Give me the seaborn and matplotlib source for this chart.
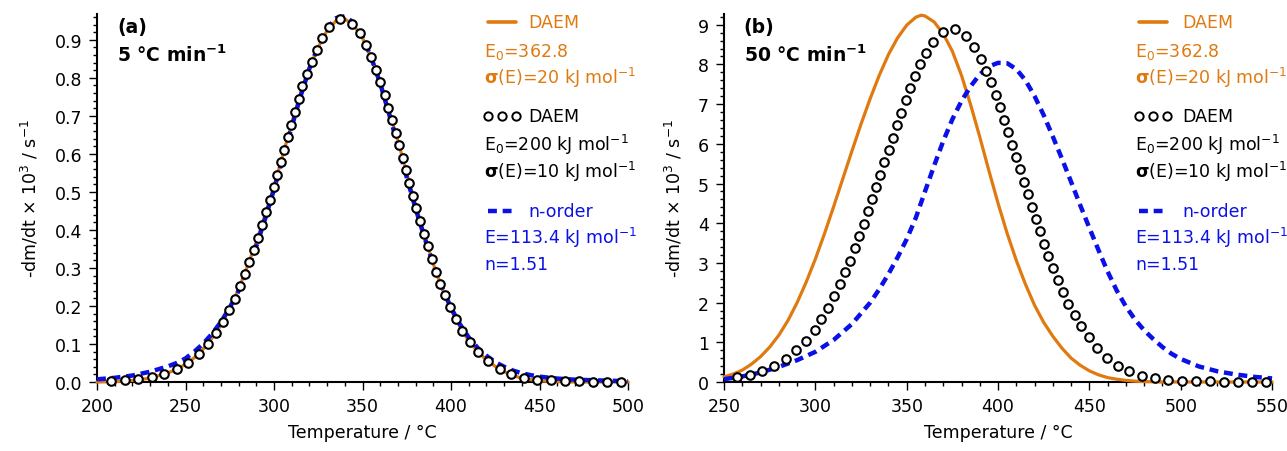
import numpy as np
import pandas as pd
import matplotlib
matplotlib.use("Agg")
import matplotlib.pyplot as plt
from matplotlib.ticker import MultipleLocator, FormatStrFormatter
import seaborn as sns

# ── Colores ──────────────────────────────────────────────────────────────────
ORANGE = "#E07A10"
BLUE = "#0A10E8"

# ── (a) 5 °C/min ─────────────────────────────────────────────────────────────
a_line_T = [200, 210, 220, 230, 240, 245, 250, 255, 260, 265, 270, 275, 280, 285,
            290, 295, 300, 305, 310, 315, 320, 325, 330, 335, 340, 345, 350, 355,
            360, 365, 370, 375, 380, 385, 390, 395, 400, 405, 410, 415, 420, 425,
            430, 435, 440, 445, 450, 460, 470, 500]
a_daem20 = [0.000, 0.001, 0.004, 0.010, 0.024, 0.033, 0.047, 0.064, 0.087, 0.116,
            0.150, 0.193, 0.244, 0.305, 0.368, 0.441, 0.514, 0.598, 0.680, 0.760,
            0.826, 0.881, 0.925, 0.950, 0.955, 0.938, 0.905, 0.852, 0.790, 0.712,
            0.634, 0.548, 0.465, 0.385, 0.310, 0.245, 0.190, 0.145, 0.108, 0.080,
            0.058, 0.041, 0.027, 0.017, 0.010, 0.006, 0.003, 0.001, 0.000, 0.000]
a_norder = [0.007, 0.011, 0.017, 0.027, 0.041, 0.050, 0.062, 0.080, 0.101, 0.127,
            0.158, 0.196, 0.240, 0.296, 0.358, 0.430, 0.507, 0.590, 0.672, 0.752,
            0.825, 0.884, 0.930, 0.957, 0.962, 0.945, 0.908, 0.852, 0.785, 0.705,
            0.622, 0.538, 0.456, 0.380, 0.310, 0.248, 0.195, 0.152, 0.117, 0.090,
            0.069, 0.052, 0.040, 0.030, 0.023, 0.018, 0.014, 0.009, 0.006, 0.002]

a_pts_T = [207.9, 215.7, 223.4, 230.9, 238.1, 245.1, 251.5, 257.5, 262.8, 267.4,
           271.3, 274.5, 277.9, 280.6, 283.4, 285.8, 288.5, 290.8, 293.2, 295.3,
           297.5, 299.8, 301.7, 303.8, 305.7, 307.7, 309.8, 311.9, 314.0, 316.0,
           318.7, 321.3, 324.2, 327.2, 331.0, 337.2, 344.0, 348.7, 352.1, 354.7,
           357.5, 360.0, 362.5, 364.3, 366.4, 368.7, 370.6, 372.6, 374.5, 376.4,
           378.5, 380.4, 382.5, 384.7, 386.8, 389.1, 391.5, 394.0, 396.6, 399.6,
           402.8, 406.4, 410.6, 415.5, 421.1, 427.4, 433.8, 441.1, 448.7, 456.4,
           464.2, 472.1, 480.0, 488.1, 496.0]
a_daem10 = [0.003, 0.004, 0.007, 0.013, 0.021, 0.034, 0.051, 0.074, 0.100, 0.129,
            0.158, 0.189, 0.219, 0.252, 0.283, 0.316, 0.347, 0.380, 0.412, 0.446,
            0.480, 0.512, 0.545, 0.578, 0.611, 0.645, 0.677, 0.711, 0.744, 0.778,
            0.810, 0.842, 0.874, 0.904, 0.933, 0.956, 0.941, 0.917, 0.886, 0.855,
            0.822, 0.789, 0.755, 0.722, 0.689, 0.656, 0.623, 0.590, 0.557, 0.524,
            0.490, 0.457, 0.424, 0.390, 0.357, 0.324, 0.290, 0.259, 0.228, 0.196,
            0.165, 0.134, 0.106, 0.079, 0.054, 0.035, 0.020, 0.011, 0.006, 0.004,
            0.003, 0.002, 0.001, 0.001, 0.001]

# ── (b) 50 °C/min ────────────────────────────────────────────────────────────
b_daem20_T = [250, 255, 260, 265, 270, 275, 280, 285, 290, 295, 300, 305, 310, 315,
              320, 325, 330, 335, 340, 345, 350, 355, 358, 360, 365, 370, 375, 380,
              385, 390, 395, 400, 405, 410, 415, 420, 425, 430, 435, 440, 445, 450,
              455, 460, 465, 470, 475, 480, 490, 550]
b_daem20 = [0.13, 0.20, 0.30, 0.45, 0.64, 0.88, 1.18, 1.55, 2.00, 2.52, 3.10, 3.74,
            4.42, 5.12, 5.82, 6.50, 7.14, 7.73, 8.25, 8.67, 8.99, 9.19, 9.24, 9.22,
            9.07, 8.77, 8.33, 7.72, 6.98, 6.17, 5.32, 4.50, 3.74, 3.06, 2.46, 1.93,
            1.50, 1.15, 0.85, 0.60, 0.42, 0.28, 0.18, 0.11, 0.07, 0.04, 0.02, 0.01,
            0.00, 0.00]

b_norder_T = [250, 260, 270, 280, 290, 300, 310, 320, 330, 335, 340, 345, 350, 355,
              360, 365, 370, 375, 380, 385, 390, 395, 400, 405, 410, 415, 420, 425,
              430, 435, 440, 445, 450, 455, 460, 465, 470, 475, 480, 485, 490, 495,
              500, 510, 520, 530, 540, 550]
b_norder = [0.07, 0.14, 0.24, 0.38, 0.55, 0.76, 1.06, 1.46, 2.00, 2.34, 2.72, 3.14,
            3.60, 4.14, 4.80, 5.45, 6.07, 6.62, 7.08, 7.45, 7.75, 7.95, 8.04, 8.03,
            7.88, 7.60, 7.20, 6.72, 6.18, 5.62, 5.04, 4.45, 3.88, 3.32, 2.78, 2.30,
            1.90, 1.57, 1.30, 1.08, 0.88, 0.71, 0.58, 0.39, 0.27, 0.19, 0.13, 0.09]

b_pts_T = [257.0, 264.2, 270.9, 277.3, 283.7, 289.5, 294.8, 299.6, 303.2, 306.9,
           310.2, 313.3, 316.4, 319.1, 321.5, 324.0, 326.4, 328.8, 331.0, 333.2,
           335.5, 337.7, 340.1, 342.3, 344.6, 347.0, 349.4, 351.8, 354.6, 357.3,
           360.6, 364.6, 369.7, 376.4, 382.4, 386.9, 390.5, 393.4, 396.0, 398.7,
           401.1, 403.3, 405.6, 407.8, 409.9, 411.9, 414.1, 416.3, 418.5, 420.7,
           422.8, 425.2, 427.6, 430.0, 432.7, 435.4, 438.5, 442.0, 445.6, 449.7,
           454.2, 459.5, 465.5, 471.9, 478.8, 485.9, 493.2, 500.9, 508.6, 516.0,
           523.7, 531.5, 539.2, 546.7]
b_daem10 = [0.12, 0.18, 0.28, 0.40, 0.58, 0.80, 1.04, 1.31, 1.59, 1.87,
            2.17, 2.46, 2.76, 3.06, 3.37, 3.68, 3.98, 4.30, 4.60, 4.91,
            5.22, 5.53, 5.84, 6.15, 6.47, 6.78, 7.10, 7.40, 7.71, 8.00,
            8.29, 8.57, 8.82, 8.89, 8.71, 8.43, 8.14, 7.84, 7.55, 7.23,
            6.92, 6.61, 6.29, 5.98, 5.68, 5.37, 5.05, 4.74, 4.42, 4.11,
            3.80, 3.48, 3.18, 2.87, 2.56, 2.26, 1.96, 1.69, 1.40, 1.13,
            0.85, 0.61, 0.41, 0.27, 0.16, 0.10, 0.05, 0.03, 0.02, 0.02,
            0.01, 0.01, 0.01, 0.01]

# ── Estilo ───────────────────────────────────────────────────────────────────
sns.set_style("ticks")
plt.rcParams["font.family"] = ["DejaVu Sans"]
plt.rcParams["mathtext.fontset"] = "dejavusans"
plt.rcParams["text.color"] = "black"
plt.rcParams["axes.labelcolor"] = "black"
plt.rcParams["xtick.color"] = "black"
plt.rcParams["ytick.color"] = "black"
FS = 12.5
DASH = (0, (2.0, 1.3))

fig = plt.figure(figsize=(12.87, 4.52), dpi=100)
ax_a = fig.add_axes([0.0754, 0.1527, 0.4126, 0.8141])
ax_b = fig.add_axes([0.5626, 0.1527, 0.4258, 0.8141])


def draw_panel(ax, line_T, orange_y, blue_T, blue_y, pts_T, pts_y):
    sns.lineplot(x=line_T, y=orange_y, ax=ax, color=ORANGE, lw=2.3,
                 clip_on=False, zorder=3)
    sns.lineplot(x=blue_T, y=blue_y, ax=ax, color=BLUE, lw=3.2,
                 linestyle=DASH, clip_on=False, zorder=4)
    sns.scatterplot(x=pts_T, y=pts_y, ax=ax, marker="o", s=38, color="white",
                    edgecolor="black", linewidth=1.5, clip_on=False, zorder=5)


def style_axis(ax, xlim, ylim, ymaj, yfmt):
    ax.set_xlim(*xlim)
    ax.set_ylim(*ylim)
    ax.xaxis.set_major_locator(MultipleLocator(50))
    ax.xaxis.set_minor_locator(MultipleLocator(10))
    ax.yaxis.set_major_locator(MultipleLocator(ymaj))
    ax.yaxis.set_minor_locator(MultipleLocator(ymaj / 5))
    ax.yaxis.set_major_formatter(FormatStrFormatter(yfmt))
    for side in ("top", "right"):
        ax.spines[side].set_visible(False)
    for side in ("left", "bottom"):
        ax.spines[side].set_linewidth(1.5)
        ax.spines[side].set_color("black")
    ax.tick_params(which="major", length=5.8, width=1.0, color="black",
                   labelcolor="black", labelsize=FS, pad=5, direction="out")
    ax.tick_params(which="minor", length=3.0, width=1.0, color="black",
                   direction="out")
    ax.set_xlabel("Temperature / °C", fontsize=FS, labelpad=6, color="black")
    ax.set_ylabel(r"-dm/dt × 10$^3$ / s$^{-1}$", fontsize=FS, labelpad=10,
                  color="black")


def draw_key(ax, x0, x1, xt):
    ys = [0.978, 0.899, 0.829, 0.723, 0.647, 0.573, 0.465, 0.394, 0.321]
    tr = ax.transAxes
    ax.plot([x0, x1], [ys[0], ys[0]], transform=tr, color=ORANGE, lw=2.6,
            clip_on=False)
    ax.text(xt, ys[0], "DAEM", transform=tr, color=ORANGE, fontsize=FS, va="center")
    ax.text(x0 - 0.007, ys[1], r"E$_0$=362.8", transform=tr, color=ORANGE,
            fontsize=FS, va="center")
    ax.text(x0 - 0.007, ys[2], r"$\mathbf{\sigma}$(E)=20 kJ mol$^{-1}$", transform=tr,
            color=ORANGE, fontsize=FS, va="center")
    ax.plot([x0, (x0 + x1) / 2, x1], [ys[3]] * 3, "o", transform=tr, ms=6,
            mfc="white", mec="black", mew=1.4, clip_on=False)
    ax.text(xt, ys[3], "DAEM", transform=tr, color="black", fontsize=FS, va="center")
    ax.text(x0 - 0.007, ys[4], r"E$_0$=200 kJ mol$^{-1}$", transform=tr,
            color="black", fontsize=FS, va="center")
    ax.text(x0 - 0.007, ys[5], r"$\mathbf{\sigma}$(E)=10 kJ mol$^{-1}$", transform=tr,
            color="black", fontsize=FS, va="center")
    ax.plot([x0, x1], [ys[6], ys[6]], transform=tr, color=BLUE, lw=3.2,
            linestyle=DASH, clip_on=False)
    ax.text(xt, ys[6], "n-order", transform=tr, color=BLUE, fontsize=FS, va="center")
    ax.text(x0 - 0.007, ys[7], r"E=113.4 kJ mol$^{-1}$", transform=tr, color=BLUE,
            fontsize=FS, va="center")
    ax.text(x0 - 0.007, ys[8], "n=1.51", transform=tr, color=BLUE, fontsize=FS,
            va="center")


draw_panel(ax_a, a_line_T, a_daem20, a_line_T, a_norder, a_pts_T, a_daem10)
style_axis(ax_a, (200, 500), (0, 0.968), 0.1, "%.1f")
draw_key(ax_a, 0.736, 0.789, 0.812)
ax_a.text(0.038, 0.965, "(a)", transform=ax_a.transAxes, fontsize=FS + 1,
          fontweight="bold", va="center", color="black")
ax_a.text(0.038, 0.89, r"5 °C min$^{\mathbf{-1}}$", transform=ax_a.transAxes,
          fontsize=FS + 1, fontweight="bold", va="center", color="black")

draw_panel(ax_b, b_daem20_T, b_daem20, b_norder_T, b_norder, b_pts_T, b_daem10)
style_axis(ax_b, (250, 550), (0, 9.27), 1, "%d")
draw_key(ax_b, 0.757, 0.808, 0.836)
ax_b.text(0.036, 0.965, "(b)", transform=ax_b.transAxes, fontsize=FS + 1,
          fontweight="bold", va="center", color="black")
ax_b.text(0.036, 0.89, r"50 °C min$^{\mathbf{-1}}$", transform=ax_b.transAxes,
          fontsize=FS + 1, fontweight="bold", va="center", color="black")

fig.savefig("out.png", dpi=100)
